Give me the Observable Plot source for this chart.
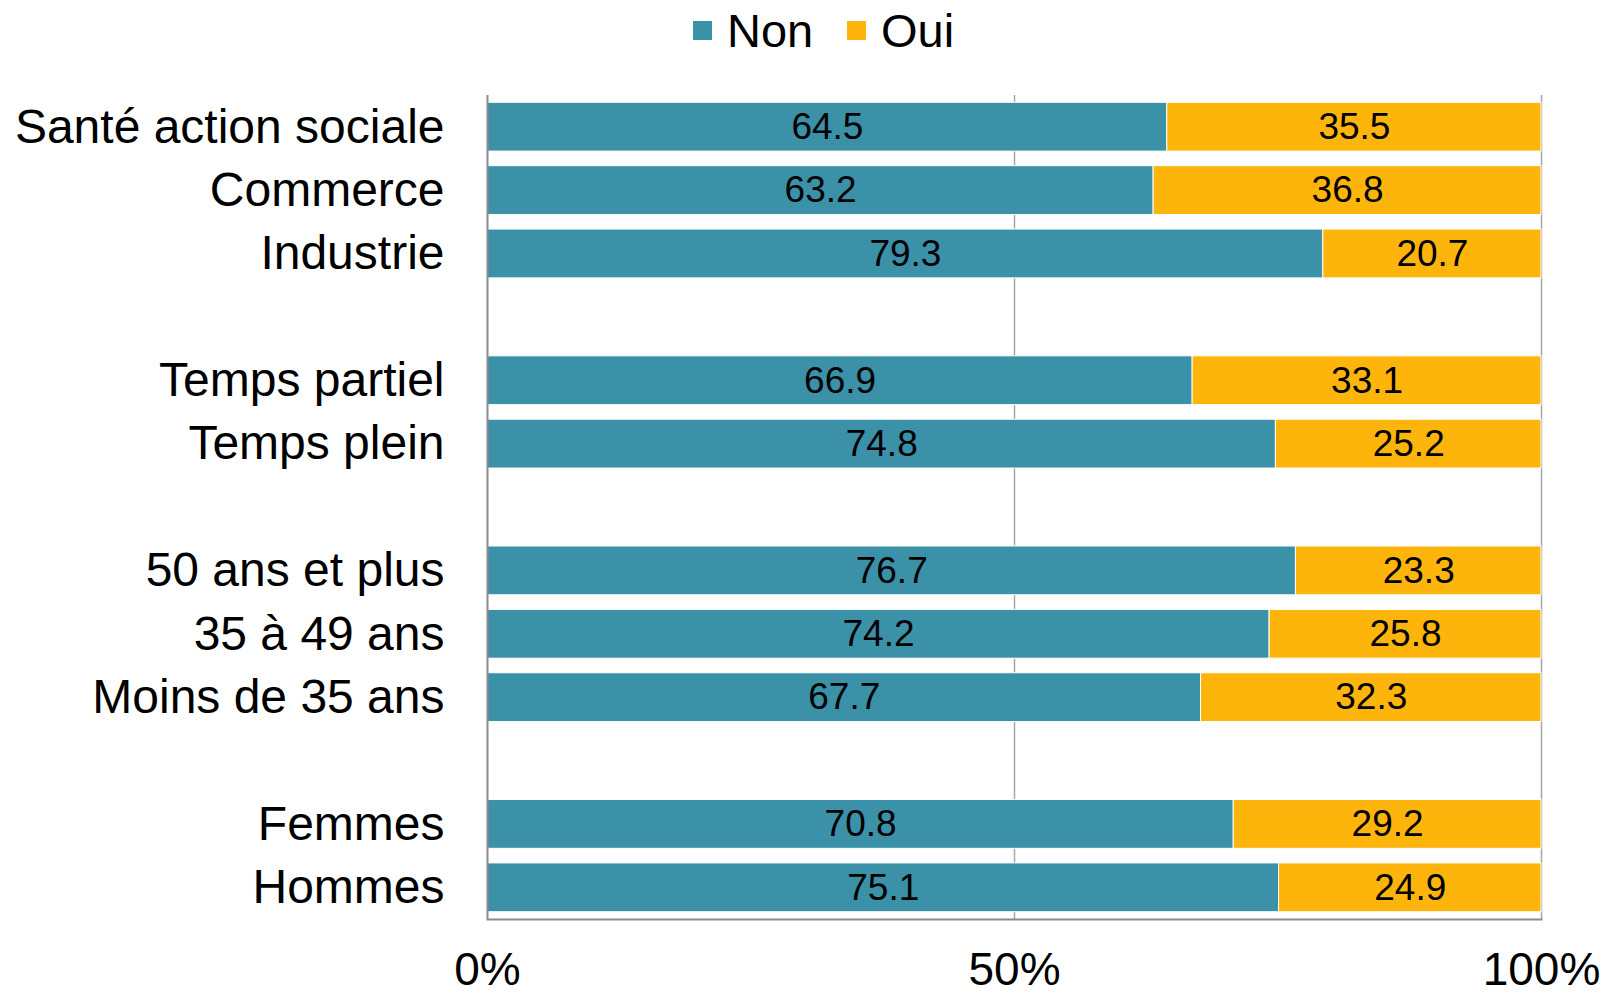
<!DOCTYPE html>
<html>
<head>
<meta charset="utf-8">
<script src="https://cdn.jsdelivr.net/npm/d3@7"></script>
<script src="https://cdn.jsdelivr.net/npm/@observablehq/plot@0.6"></script>
<style>
  html, body { margin: 0; padding: 0; background: #fff; }
  body { width: 1608px; height: 995px; overflow: hidden; font-family: "Liberation Sans", Arial, sans-serif; }
  #legend { position: relative; height: 62px; width: 1608px; }
  .sw { position: absolute; top: 21px; width: 19px; height: 19px; }
  .lb { position: absolute; top: 4px; font-size: 47px; line-height: 54px; color: #000; }
</style>
</head>
<body>
<div id="legend">
  <div class="sw" style="left:693px;background:#3A91A8"></div>
  <div class="lb" style="left:727px">Non</div>
  <div class="sw" style="left:847px;background:#FDB50B"></div>
  <div class="lb" style="left:881px">Oui</div>
</div>
<div id="chart"></div>
<script>
const categories = ["Santé action sociale", "Commerce", "Industrie", " ", "Temps partiel", "Temps plein", "  ", "50 ans et plus", "35 à 49 ans", "Moins de 35 ans", "   ", "Femmes", "Hommes"];
const nonValues = [64.5, 63.2, 79.3, null, 66.9, 74.8, null, 76.7, 74.2, 67.7, null, 70.8, 75.1];
const ouiValues = [35.5, 36.8, 20.7, null, 33.1, 25.2, null, 23.3, 25.8, 32.3, null, 29.2, 24.9];
const seriesNames = ["Non", "Oui"];
const seriesColors = ["#3A91A8", "#FDB50B"];
const xTicks = [0, 50, 100];

const data = [];
categories.forEach((c, i) => {
  if (nonValues[i] != null) data.push({cat: c, serie: "Non", value: nonValues[i]});
  if (ouiValues[i] != null) data.push({cat: c, serie: "Oui", value: ouiValues[i]});
});

const chart = Plot.plot({
  width: 1608,
  height: 933,
  marginTop: 33,
  marginBottom: 76,
  marginLeft: 487,
  marginRight: 67,
  style: {fontFamily: "'Liberation Sans', Arial, sans-serif", background: "#fff", color: "#000"},
  x: {domain: [0, 100], ticks: xTicks, tickFormat: d => d + "%", label: null},
  y: {domain: categories, paddingInner: 0.23, paddingOuter: 0.115, round: false, label: null},
  color: {domain: seriesNames, range: seriesColors},
  marks: [
    Plot.gridX(xTicks.slice(1), {stroke: "#a6a6a6", strokeOpacity: 1, strokeWidth: 1.5}),
    Plot.barX(data, Plot.stackX({x: "value", y: "cat", fill: "serie", order: seriesNames, stroke: "#fff", strokeWidth: 1})),
    Plot.text(data, Plot.stackX({x: "value", y: "cat", z: "serie", order: seriesNames, text: d => d.value.toFixed(1), fontSize: 37, fill: "#000"})),
    Plot.ruleX([0], {stroke: "#8c8c8c", strokeWidth: 2}),
    Plot.frame({anchor: "bottom", stroke: "#8c8c8c", strokeWidth: 2}),
    Plot.axisX({ticks: xTicks, tickFormat: d => d + "%", tickSize: 0, tickPadding: 33, fontSize: 46, label: null}),
    Plot.axisY({tickSize: 0, tickPadding: 43, fontSize: 48, label: null})
  ]
});
chart.querySelectorAll("text").forEach(t => t.setAttribute("fill", "#000"));
document.getElementById("chart").appendChild(chart);
</script>
</body>
</html>
